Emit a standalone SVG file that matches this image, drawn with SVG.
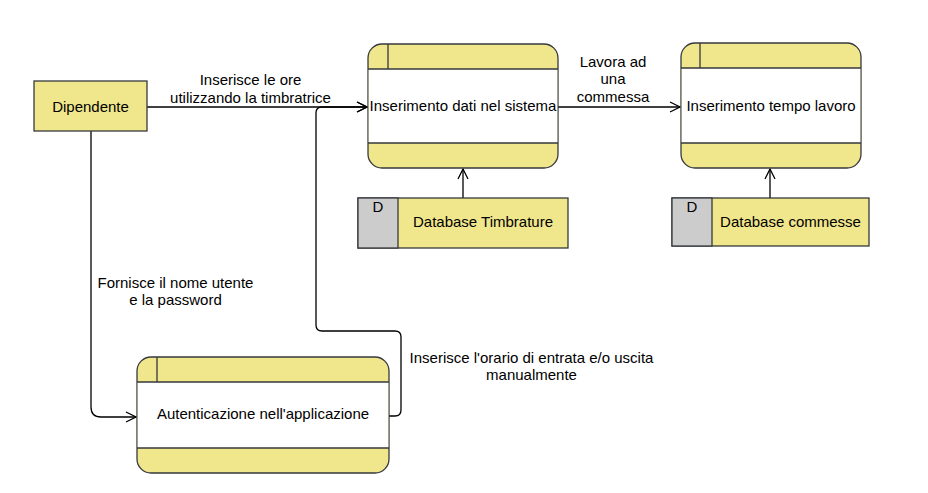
<svg xmlns="http://www.w3.org/2000/svg" width="928" height="493" viewBox="0 0 928 493">
<defs>
<style>
text{font-family:"Liberation Sans",Arial,sans-serif;font-size:15px;fill:#000;text-anchor:middle}
.y{fill:#f0e68c;stroke:#36393d;stroke-width:1.3}
.w{fill:#fff;stroke:none}
.ln{stroke:#36393d;stroke-width:1.3;fill:none}
.g{fill:#cccccc;stroke:#36393d;stroke-width:1.3}
.c{stroke:#000;stroke-width:1.3;fill:none}
</style>
<marker id="ar" viewBox="0 0 12 12" refX="11" refY="6" markerWidth="12" markerHeight="12" markerUnits="userSpaceOnUse" orient="auto">
<path d="M1,1 L11,6 L1,11" fill="none" stroke="#000" stroke-width="1.3"/>
</marker>
</defs>
<rect width="928" height="493" fill="#fff"/>
<g id="connectors">
<path class="c" d="M147,107 L367,107" marker-end="url(#ar)"/>
<path class="c" d="M558,107 L680,107" marker-end="url(#ar)"/>
<path class="c" d="M463,198 L463,169" marker-end="url(#ar)"/>
<path class="c" d="M770,198 L770,169" marker-end="url(#ar)"/>
<path class="c" d="M91,131 L91,407 Q91,417 101,417 L136,417" marker-end="url(#ar)"/>
<path class="c" d="M389,416 L395,416 Q401,416 401,410 L401,337 Q401,331 395,331 L322,331 Q316,331 316,325 L316,113 Q316,107 322,107 L367,107" marker-end="url(#ar)"/>
<text x="250.5" y="85">Inserisce le ore</text>
<text x="250.5" y="102.5">utilizzando la timbratrice</text>
<text x="613" y="66.5">Lavora ad</text>
<text x="613" y="84">una</text>
<text x="613" y="101.5">commessa</text>
<text x="175.5" y="288">Fornisce il nome utente</text>
<text x="175.5" y="305">e la password</text>
<text x="531.5" y="363">Inserisce l'orario di entrata e/o uscita</text>
<text x="531.5" y="380">manualmente</text>
</g>
<g id="dipendente">
<rect class="y" x="34" y="81" width="113" height="50"/>
<text x="90.5" y="111.5">Dipendente</text>
</g>
<g id="p-inserimento-dati">
<rect class="y" x="368" y="44" width="190" height="124" rx="14" ry="14"/>
<rect class="w" x="368.7" y="69" width="188.6" height="74"/>
<path class="ln" d="M368,69 H558 M368,143 H558 M388,44 V69"/>
<text x="463" y="111">Inserimento dati nel sistema</text>
</g>
<g id="p-tempo-lavoro">
<rect class="y" x="681" y="43" width="180" height="125" rx="14" ry="14"/>
<rect class="w" x="681.7" y="68" width="178.6" height="75"/>
<path class="ln" d="M681,68 H861 M681,143 H861 M700,43 V68"/>
<text x="771" y="110.5">Inserimento tempo lavoro</text>
</g>
<g id="p-autenticazione">
<rect class="y" x="137" y="357" width="252" height="116" rx="14" ry="14"/>
<rect class="w" x="137.7" y="382" width="250.6" height="66"/>
<path class="ln" d="M137,382 H389 M137,448 H389 M157,357 V382"/>
<text x="263" y="419">Autenticazione nell'applicazione</text>
</g>
<g id="db-timbrature">
<rect class="y" x="358" y="198" width="210" height="50"/>
<rect class="g" x="358" y="198" width="40" height="50"/>
<text x="378" y="211.5">D</text>
<text x="483" y="227">Database Timbrature</text>
</g>
<g id="db-commesse">
<rect class="y" x="672" y="198" width="197" height="48"/>
<rect class="g" x="672" y="198" width="40" height="48"/>
<text x="692" y="211.5">D</text>
<text x="790.5" y="227">Database commesse</text>
</g>
</svg>
